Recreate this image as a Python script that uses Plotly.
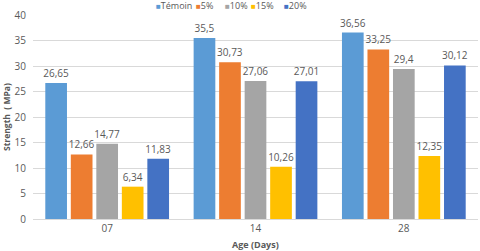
import plotly.graph_objects as go

categories = ["07", "14", "28"]
series_names = ["Témoin", "5%", "10%", "15%", "20%"]
temoin = [26.65, 35.5, 36.56]
p5 = [12.66, 30.73, 33.25]
p10 = [14.77, 27.06, 29.4]
p15 = [6.34, 10.26, 12.35]
p20 = [11.83, 27.01, 30.12]
colors = ["#5B9BD5", "#ED7D31", "#A5A5A5", "#FFC000", "#4472C4"]

values = [temoin, p5, p10, p15, p20]

def fmt(v):
    return ("%g" % v).replace(".", ",")

fig = go.Figure()
for name, vals, col in zip(series_names, values, colors):
    fig.add_trace(go.Bar(
        x=categories, y=vals, name=name,
        marker=dict(color=col, line=dict(width=0)),
        text=[fmt(v) for v in vals], textposition="outside",
        constraintext="none",
        textfont=dict(size=10, color="#595959", family="Open Sans"),
        cliponaxis=False, showlegend=False,
    ))

# legend built as annotations (compact Excel-style legend)
legend_x = [154, 194, 223, 249, 282]
for name, col, lx in zip(series_names, colors, legend_x):
    fig.add_annotation(
        xref="paper", yref="paper", x=(lx - 33) / 445, y=1 + 9 / 204,
        xanchor="left", yanchor="middle", showarrow=False,
        text=f"<span style='color:{col};font-size:8px'>■</span>{name}",
        font=dict(size=9, color="#595959", family="Open Sans"),
    )

fig.add_annotation(xref="paper", yref="paper", x=(255 - 33) / 445, y=-25 / 204,
                   xanchor="center", yanchor="middle", showarrow=False,
                   text="<b>Age (Days)</b>", font=dict(size=9, color="#595959", family="Open Sans"))
fig.add_annotation(xref="paper", yref="paper", x=-27 / 445, y=0.5,
                   xanchor="center", yanchor="middle", showarrow=False, textangle=-90,
                   text="<b>Strength  ( MPa)</b>", font=dict(size=8.5, color="#595959", family="Open Sans"))

fig.update_layout(
    width=480, height=251,
    margin=dict(l=33, r=2, t=15, b=32),
    paper_bgcolor="white", plot_bgcolor="white",
    barmode="group", bargap=0.14, bargroupgap=0.15,
    font=dict(family="Open Sans", color="#595959", size=10),
    xaxis=dict(type="category", showgrid=False, showline=True, linecolor="#D9D9D9",
               ticks="", tickfont=dict(size=10, color="#595959")),
    yaxis=dict(range=[0, 40], dtick=5, showgrid=True, gridcolor="#D9D9D9", zeroline=False,
               ticks="", ticklabelstandoff=6, tickfont=dict(size=10, color="#595959")),
)
fig.write_html("out.html", config={"displayModeBar": False},
               post_script="document.body.style.margin='0';document.body.style.overflow='hidden';")
